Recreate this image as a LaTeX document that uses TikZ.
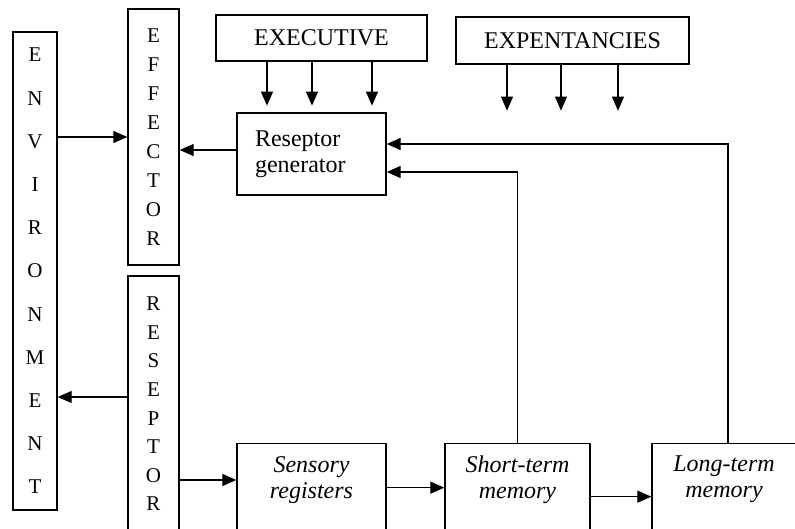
\documentclass[tikz,border=0pt]{standalone}
\usepackage{fontspec}
\setmainfont{Liberation Serif}
\usetikzlibrary{arrows.meta}

\tikzset{
    box/.style={draw, line width=1.3pt, inner sep=0pt},
    vbox/.style={box, align=center},
    titlebox/.style={box, font=\fontsize{24}{26}\selectfont},
    membox/.style={box, anchor=north, minimum height=130pt},
    memtext/.style={anchor=north, inner sep=0pt, yshift=-13pt, align=center,
        font=\fontsize{24}{26}\selectfont\itshape},
    arr/.style={-{Triangle[length=14pt,width=12pt]}, line width=1.2pt},
}

\begin{document}
\begin{tikzpicture}[x=1pt,y=-1pt]
    \clip (0,0) rectangle (795,529);

    % Left column
    \node[vbox, minimum width=44pt, minimum height=478pt,
        font=\fontsize{21}{43.2}\selectfont] (env) at (35,271)
        {E\\N\\V\\I\\R\\O\\N\\M\\E\\N\\T};
    \node[vbox, minimum width=51pt, minimum height=256pt,
        font=\fontsize{21}{28.9}\selectfont] (eff) at (153.5,137)
        {E\\F\\F\\E\\C\\T\\O\\R};
    \node[vbox, minimum width=51pt, minimum height=256pt,
        font=\fontsize{21}{28.6}\selectfont] (res) at (153.5,404)
        {R\\E\\S\\E\\P\\T\\O\\R};

    % Top row
    \node[titlebox, minimum width=211pt, minimum height=46pt] (exec) at (321.5,38) {EXECUTIVE};
    \node[titlebox, minimum width=233pt, minimum height=47pt] (expect) at (572.5,40.5) {EXPENTANCIES};
    \node[box, text width=113pt, inner xsep=18pt, minimum height=82pt, align=left,
        font=\fontsize{24}{26}\selectfont] (gen) at (311.5,154) {Reseptor\\generator};

    % Memory stores
    \node[membox, minimum width=149pt] (sens) at (311.5,443) {};
    \node[memtext] (senstxt) at (sens.north) {Sensory\\registers};
    \node[membox, minimum width=145pt] (short) at (517.5,443) {};
    \node[memtext] (shorttxt) at (short.north) {Short-term\\memory};
    \node[membox, minimum width=156pt] (long) at (730,443) {};
    \node[memtext] (longtxt) at ([xshift=-6pt]long.north) {Long-term\\memory};

    % Arrows
    \foreach \x in {267,312,372}
        \draw[arr] (exec.south -| \x,0) -- ++(0,44);
    \foreach \x in {507,561,618}
        \draw[arr] (expect.south -| \x,0) -- ++(0,46);

    \draw[arr] (env.east |- eff.west) -- (eff.west);
    \draw[arr] ([yshift=4pt]gen.west) -- ([yshift=4pt]gen.west -| eff.east);
    \draw[arr] ([yshift=7pt]res.west) -- ([yshift=7pt]res.west -| env.east);
    \draw[arr] ([yshift=-76pt]res.east) -- ([yshift=-76pt]res.east -| sens.west);
    \draw[arr] ([yshift=21pt]sens.east) -- ([yshift=21pt]sens.east -| short.west);
    \draw[arr] ([yshift=12pt]short.east) -- ([yshift=12pt]short.east -| long.west);

    \draw[arr] (short.north) |- ([yshift=-18pt]gen.east);
    \draw[arr] ([xshift=-2pt]long.north) |- ([yshift=10pt]gen.east);
\end{tikzpicture}
\end{document}
